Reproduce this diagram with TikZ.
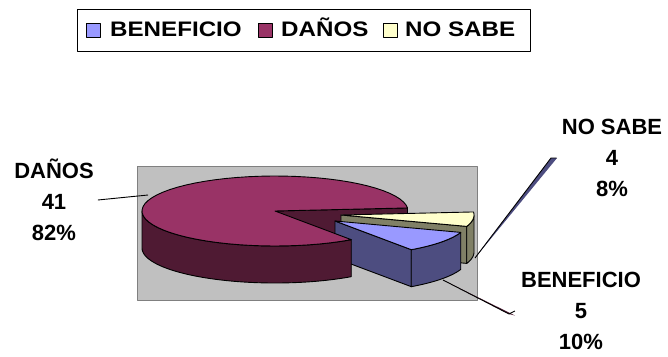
\documentclass[tikz,border=0pt]{standalone}
\usepackage{fontspec}
\setmainfont{Liberation Sans}
\newfontfamily\legfont[FakeStretch=1.15]{Liberation Sans}
\definecolor{danTop}{HTML}{993366}
\definecolor{danSide}{HTML}{4F1A33}
\definecolor{benTop}{HTML}{9999FF}
\definecolor{benSide}{HTML}{4D4D80}
\definecolor{noTop}{HTML}{FFFFCC}
\definecolor{noSide}{HTML}{808066}
\definecolor{plotGray}{HTML}{C0C0C0}
\definecolor{plotBorder}{HTML}{808080}
\newcommand\pietop[5]{%
  \filldraw[fill=#5,pieedge] (#1,#2) -- plot[domain=#3:#4,samples=60] ({#1+133*cos(\x)},{#2-35*sin(\x)}) -- cycle;}
\newcommand\pieside[5]{%
  \filldraw[fill=#5,pieedge] plot[domain=#3:#4,samples=60] ({#1+133*cos(\x)},{#2-35*sin(\x)}) -- plot[domain=#4:#3,samples=60] ({#1+133*cos(\x)},{#2+37-35*sin(\x)}) -- cycle;}
\newcommand\piecut[4]{%
  \filldraw[fill=#4,pieedge] (#1,#2) -- ({#1+133*cos(#3)},{#2-35*sin(#3)}) -- ({#1+133*cos(#3)},{#2+37-35*sin(#3)}) -- (#1,#2+37) -- cycle;}
\begin{document}
\begin{tikzpicture}[x=1pt,y=-1pt,line join=round,
  pieedge/.style={draw=black,line width=0.9pt},
  lbl/.style={font=\fontsize{22}{31}\selectfont\bfseries,align=center,inner sep=0pt},
  legtext/.style={font=\legfont\fontsize{21}{24}\selectfont\bfseries,inner sep=0pt,anchor=base west},
  legsq/.style={draw=black,line width=0.9pt},
  leader/.style={draw=black,line width=0.9pt}]
\useasboundingbox (0,0) rectangle (668,356);
% legend
\draw[line width=0.9pt,fill=white] (77,9) rectangle (530,51);
\filldraw[legsq,fill=benTop] (86,23) rectangle (100,37);
\node[legtext] (legB) at (110,36.5) {BENEFICIO};
\filldraw[legsq,fill=danTop] (258,23) rectangle (272,37);
\node[legtext] (legD) at (281,36.5) {DAÑOS};
\filldraw[legsq,fill=noTop] (383,23) rectangle (397,37);
\node[legtext] (legN) at (405,36.5) {NO SABE};
% plot area
\filldraw[fill=plotGray,draw=plotBorder,line width=1pt] (137,166) rectangle (477,300);
% DAÑOS cut face
\piecut{275}{211}{5}{danSide}
% NO SABE
\piecut{341}{215}{-19}{noSide}
\pieside{341}{215}{-19}{0}{noSide}
\pietop{341}{215}{-19}{5}{noTop}
% BENEFICIO
\piecut{335}{221}{-55}{benSide}
\pieside{335}{221}{-55}{-19}{benSide}
\pietop{335}{221}{-55}{-19}{benTop}
% DAÑOS
\pieside{275}{211}{180}{305}{danSide}
\pietop{275}{211}{5}{305}{danTop}
% labels
\node[lbl] (lblD) at (54,200) {DAÑOS\\41\\82\%};
\node[lbl] (lblN) at (612,158) {NO SABE\\4\\8\%};
\node[lbl] (lblB) at (581,311) {BENEFICIO\\5\\10\%};
% leader lines
\coordinate (dEnd) at (148,195);
\draw[leader] ([xshift=4pt]lblD.east) -- (dEnd);
\coordinate (nTop) at (551,158);
\coordinate (nEnd) at (475,258);
\fill[benSide] (nEnd) -- (nTop) -- (557,158) -- cycle;
\draw[leader] ([xshift=-5pt]lblN.west) -- (nTop) -- (nEnd);
\coordinate (bEnd) at (443,280);
\coordinate (bTop) at (509,314);
\fill[danSide] (bEnd) -- (bTop) -- (515,315.5) -- cycle;
\draw[leader] ([xshift=-6pt]lblB.west) -- (bTop) -- (bEnd);
\end{tikzpicture}
\end{document}
